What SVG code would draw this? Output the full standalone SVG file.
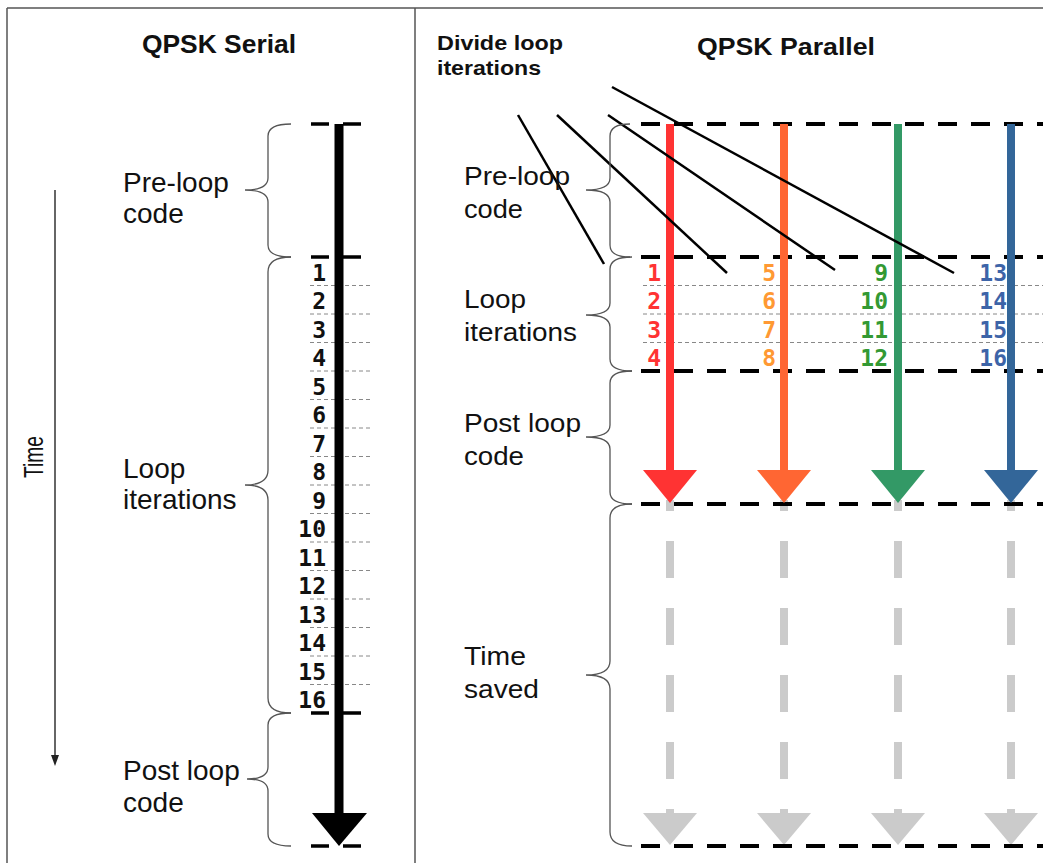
<svg xmlns="http://www.w3.org/2000/svg" width="1043" height="863" viewBox="0 0 1043 863">
<style>
.lbl{font-family:"Liberation Sans",Arial,sans-serif;font-size:28px;fill:#111}
.lbr{font-family:"Liberation Sans",Arial,sans-serif;font-size:25px;fill:#111}
.ttl{font-family:"Liberation Sans",Arial,sans-serif;font-weight:bold;fill:#111}
.num{font-family:"DejaVu Sans Mono",monospace;font-size:23px;font-weight:bold;text-anchor:end}
.brace{fill:none;stroke:#555;stroke-width:1.3}
.bdash{stroke:#000;stroke-width:4;stroke-dasharray:19 14}
.sdash{stroke:#000;stroke-width:3.5;stroke-dasharray:18 14}
.thin{stroke:#888;stroke-width:1;stroke-dasharray:4 3}
.gray{stroke:#cbcbcb;stroke-width:8;stroke-dasharray:37 30;stroke-dashoffset:26}
.diag{stroke:#000;stroke-width:2.5}
</style>
<rect width="1043" height="863" fill="#fff"/>
<g id="frame" stroke="#555" stroke-width="1.5" fill="none">
<line x1="7" y1="8" x2="1043" y2="8"/>
<line x1="7" y1="8" x2="7" y2="863"/>
<line x1="415" y1="8" x2="415" y2="863"/>
</g>
<g id="titles">
<text class="ttl" x="142" y="53" font-size="25" textLength="154" lengthAdjust="spacingAndGlyphs">QPSK Serial</text>
<text class="ttl" x="697" y="55" font-size="24" textLength="178" lengthAdjust="spacingAndGlyphs">QPSK Parallel</text>
</g>
<g id="divide-label">
<text class="ttl" x="437" y="50" font-size="21" textLength="126" lengthAdjust="spacingAndGlyphs">Divide loop</text>
<text class="ttl" x="437" y="75" font-size="21" textLength="104" lengthAdjust="spacingAndGlyphs">iterations</text>
</g>
<g id="time-axis">
<line x1="55" y1="190" x2="55" y2="756" stroke="#333" stroke-width="1.5"/>
<polygon points="51,755 59,755 55,766" fill="#222"/>
<text class="lbl" transform="translate(43,478) rotate(-90)" font-size="26" textLength="42" lengthAdjust="spacingAndGlyphs">Time</text>
</g>
<g id="serial">
<g id="serial-separators">
<line class="thin" x1="310" y1="285.5" x2="373" y2="285.5"/>
<line class="thin" x1="310" y1="314" x2="373" y2="314"/>
<line class="thin" x1="310" y1="342.5" x2="373" y2="342.5"/>
<line class="thin" x1="310" y1="371" x2="373" y2="371"/>
<line class="thin" x1="310" y1="399.5" x2="373" y2="399.5"/>
<line class="thin" x1="310" y1="428" x2="373" y2="428"/>
<line class="thin" x1="310" y1="456.5" x2="373" y2="456.5"/>
<line class="thin" x1="310" y1="485" x2="373" y2="485"/>
<line class="thin" x1="310" y1="513.5" x2="373" y2="513.5"/>
<line class="thin" x1="310" y1="542" x2="373" y2="542"/>
<line class="thin" x1="310" y1="570.5" x2="373" y2="570.5"/>
<line class="thin" x1="310" y1="599" x2="373" y2="599"/>
<line class="thin" x1="310" y1="627.5" x2="373" y2="627.5"/>
<line class="thin" x1="310" y1="656" x2="373" y2="656"/>
<line class="thin" x1="310" y1="684.5" x2="373" y2="684.5"/>
</g>
<g id="serial-bounds">
<line class="sdash" x1="311" y1="124" x2="367" y2="124"/>
<line class="sdash" x1="311" y1="257" x2="367" y2="257"/>
<line class="sdash" x1="311" y1="713" x2="367" y2="713"/>
<line class="sdash" x1="311" y1="846" x2="367" y2="846"/>
</g>
<g id="serial-arrow">
<line x1="339" y1="124" x2="339" y2="815" stroke="#000" stroke-width="9"/>
<polygon points="312,813 367,813 339,846" fill="#000"/>
</g>
<g id="serial-numbers" class="num" fill="#111">
<text x="326" y="280.5">1</text>
<text x="326" y="309">2</text>
<text x="326" y="337.5">3</text>
<text x="326" y="366">4</text>
<text x="326" y="394.5">5</text>
<text x="326" y="423">6</text>
<text x="326" y="451.5">7</text>
<text x="326" y="480">8</text>
<text x="326" y="508.5">9</text>
<text x="326" y="537">10</text>
<text x="326" y="565.5">11</text>
<text x="326" y="594">12</text>
<text x="326" y="622.5">13</text>
<text x="326" y="651">14</text>
<text x="326" y="679.5">15</text>
<text x="326" y="708">16</text>
</g>
</g>
<g id="serial-preloop">
<path class="brace" d="M291,124 Q268,124 268,136 L268,178 Q268,190 245,190 Q268,190 268,202 L268,245 Q268,257 291,257"/>
<text class="lbl" x="123" y="192">Pre-loop</text>
<text class="lbl" x="123" y="223">code</text>
</g>
<g id="serial-loop">
<path class="brace" d="M291,257 Q268,257 268,272 L268,470 Q268,485 245,485 Q268,485 268,500 L268,698 Q268,713 291,713"/>
<text class="lbl" x="123" y="478">Loop</text>
<text class="lbl" x="123" y="509">iterations</text>
</g>
<g id="serial-postloop">
<path class="brace" d="M291,713 Q268,713 268,725 L268,767 Q268,779 247,779 Q268,779 268,791 L268,834 Q268,846 291,846"/>
<text class="lbl" x="123" y="780">Post loop</text>
<text class="lbl" x="123" y="812">code</text>
</g>
<g id="parallel">
<g id="parallel-separators">
<line class="thin" x1="643" y1="285.5" x2="1043" y2="285.5"/>
<line class="thin" x1="643" y1="314" x2="1043" y2="314"/>
<line class="thin" x1="643" y1="342.5" x2="1043" y2="342.5"/>
</g>
<g id="gray-saved">
<line class="gray" x1="670" y1="500" x2="670" y2="815"/>
<line class="gray" x1="784" y1="500" x2="784" y2="815"/>
<line class="gray" x1="898" y1="500" x2="898" y2="815"/>
<line class="gray" x1="1011" y1="500" x2="1011" y2="815"/>
<polygon points="643,813 697,813 670,845" fill="#cbcbcb"/>
<polygon points="757,813 811,813 784,845" fill="#cbcbcb"/>
<polygon points="871,813 925,813 898,845" fill="#cbcbcb"/>
<polygon points="984,813 1038,813 1011,845" fill="#cbcbcb"/>
</g>
<g id="parallel-bounds">
<line class="bdash" x1="641" y1="124" x2="1043" y2="124"/>
<line class="bdash" x1="641" y1="257" x2="1043" y2="257"/>
<line class="bdash" x1="641" y1="371" x2="1043" y2="371"/>
<line class="bdash" x1="641" y1="504" x2="1043" y2="504"/>
<line class="bdash" x1="641" y1="846" x2="1043" y2="846"/>
</g>
<g id="thread-red">
<line x1="670" y1="124" x2="670" y2="472" stroke="#ff3333" stroke-width="8"/>
<polygon points="643,470 697,470 670,503" fill="#ff3333"/>
</g>
<g id="thread-orange">
<line x1="784" y1="124" x2="784" y2="472" stroke="#ff6633" stroke-width="8"/>
<polygon points="757,470 811,470 784,503" fill="#ff6633"/>
</g>
<g id="thread-green">
<line x1="898" y1="124" x2="898" y2="472" stroke="#339966" stroke-width="8"/>
<polygon points="871,470 925,470 898,503" fill="#339966"/>
</g>
<g id="thread-blue">
<line x1="1011" y1="124" x2="1011" y2="472" stroke="#336699" stroke-width="8"/>
<polygon points="984,470 1038,470 1011,503" fill="#336699"/>
</g>
<g id="parallel-numbers" class="num">
<g fill="#ff3333">
<text x="661" y="280.5">1</text><text x="661" y="309">2</text><text x="661" y="337.5">3</text><text x="661" y="366">4</text>
</g>
<g fill="#ff9933">
<text x="776" y="280.5">5</text><text x="776" y="309">6</text><text x="776" y="337.5">7</text><text x="776" y="366">8</text>
</g>
<g fill="#339933">
<text x="888" y="280.5">9</text><text x="888" y="309">10</text><text x="888" y="337.5">11</text><text x="888" y="366">12</text>
</g>
<g fill="#3d64a8">
<text x="1007" y="280.5">13</text><text x="1007" y="309">14</text><text x="1007" y="337.5">15</text><text x="1007" y="366">16</text>
</g>
</g>
</g>
<g id="connectors">
<line class="diag" x1="518" y1="115" x2="604" y2="264"/>
<line class="diag" x1="557" y1="115" x2="727" y2="273"/>
<line class="diag" x1="608" y1="115" x2="835" y2="270"/>
<line class="diag" x1="612" y1="87" x2="954" y2="273"/>
</g>
<g id="parallel-preloop">
<path class="brace" d="M630,124 Q610,124 610,136 L610,178 Q610,190 586,190 Q610,190 610,202 L610,245 Q610,257 630,257"/>
<text class="lbr" x="464" y="185" textLength="106" lengthAdjust="spacingAndGlyphs">Pre-loop</text>
<text class="lbr" x="464" y="218" textLength="59" lengthAdjust="spacingAndGlyphs">code</text>
</g>
<g id="parallel-loop">
<path class="brace" d="M632,257 Q610,257 610,269 L610,303 Q610,315 586,315 Q610,315 610,327 L610,359 Q610,371 632,371"/>
<text class="lbr" x="464" y="308" textLength="62" lengthAdjust="spacingAndGlyphs">Loop</text>
<text class="lbr" x="464" y="341" textLength="113" lengthAdjust="spacingAndGlyphs">iterations</text>
</g>
<g id="parallel-postloop">
<path class="brace" d="M632,371 Q610,371 610,383 L610,425 Q610,437 586,437 Q610,437 610,449 L610,492 Q610,504 632,504"/>
<text class="lbr" x="464" y="432" textLength="117" lengthAdjust="spacingAndGlyphs">Post loop</text>
<text class="lbr" x="464" y="465" textLength="60" lengthAdjust="spacingAndGlyphs">code</text>
</g>
<g id="parallel-timesaved">
<path class="brace" d="M632,504 Q610,504 610,518 L610,661 Q610,675 586,675 Q610,675 610,689 L610,832 Q610,846 632,846"/>
<text class="lbr" x="464" y="665" textLength="62" lengthAdjust="spacingAndGlyphs">Time</text>
<text class="lbr" x="464" y="698" textLength="75" lengthAdjust="spacingAndGlyphs">saved</text>
</g>
</svg>
